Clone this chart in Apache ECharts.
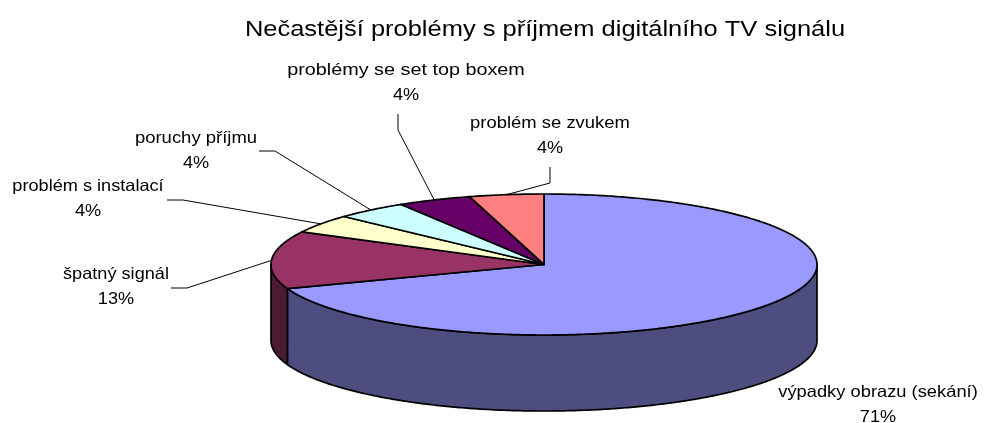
<!DOCTYPE html>
<html>
<head>
<meta charset="utf-8">
<style>html,body{margin:0;padding:0;background:#fff}#c{width:984px;height:423px}</style>
<script src="https://cdn.jsdelivr.net/npm/echarts@6/dist/echarts.min.js"></script>
</head>
<body>
<div id="c"></div>
<script>
var chartTitle = 'Nečastější problémy s příjmem digitálního TV signálu';
var categories = ['výpadky obrazu (sekání)', 'špatný signál', 'problém s instalací', 'poruchy příjmu', 'problémy se set top boxem', 'problém se zvukem'];
var values = [71, 13, 4, 4, 4, 4];
var topColors = ['#9999FF', '#993366', '#FFFFCC', '#CCFFFF', '#660066', '#FF8080'];
var sideColors = ['#4D4D80', '#4D1A33', '#808066', '#668080', '#330033', '#804040'];

// Layout of the tilted pie and of the outside labels
var PIE = { cx: 544, cy: 264.5, rx: 273, ry: 70.5, depth: 76, skew: 0.1 };
var FONT = '"Liberation Sans", Arial, sans-serif';
var labelBoxes = [
  { x: 878, y: 392, sx: 1.11, line: null },
  { x: 116, y: 274, sx: 1.10, line: [[171, 288], [187, 288]] },
  { x: 88,  y: 186, sx: 1.10, line: [[167, 200], [183, 200]] },
  { x: 196, y: 138, sx: 1.12, line: [[259, 151], [275, 151]] },
  { x: 406, y: 70,  sx: 1.20, line: [[398, 114], [398, 130]] },
  { x: 550, y: 123, sx: 1.117, line: [[550, 167], [550, 183]] }
];

var total = values.reduce(function (a, b) { return a + b; }, 0);
var acc = 0;
var sliceData = values.map(function (v, i) {
  var start = acc / total * 2 * Math.PI;
  acc += v;
  return [start, acc / total * 2 * Math.PI, i];
});

// Tilted projection: the slight perspective of the disc shifts the apparent angle
function warp(t) { return t + PIE.skew * Math.sin(t); }
function pt(t, dy) {
  return [PIE.cx + PIE.rx * Math.sin(t), PIE.cy - PIE.ry * Math.cos(t) + (dy || 0)];
}
function arc(t0, t1, dy) {
  var n = Math.max(2, Math.ceil(Math.abs(t1 - t0) / 0.01)), out = [];
  for (var k = 0; k <= n; k++) out.push(pt(t0 + (t1 - t0) * k / n, dy));
  return out;
}
var edgeStyle = { stroke: '#000', lineWidth: 1.7, lineJoin: 'round' };

function renderSide(params, api) {
  var a = Math.max(warp(api.value(0)), Math.PI / 2);
  var b = Math.min(warp(api.value(1)), Math.PI * 1.5);
  if (b <= a) return null;
  var pts = arc(a, b, 0).concat(arc(b, a, PIE.depth));
  return { type: 'polygon', shape: { points: pts },
    style: Object.assign({ fill: sideColors[api.value(2)] }, edgeStyle) };
}
function renderTop(params, api) {
  var pts = [[PIE.cx, PIE.cy]].concat(arc(warp(api.value(0)), warp(api.value(1)), 0));
  return { type: 'polygon', shape: { points: pts },
    style: Object.assign({ fill: topColors[api.value(2)] }, edgeStyle) };
}
function renderLabel(params, api) {
  var i = api.value(2), box = labelBoxes[i], children = [];
  var pct = Math.round(values[i] / total * 100) + '%';
  [categories[i], pct].forEach(function (s, n) {
    children.push({ type: 'text', x: box.x, y: box.y + n * 25,
      scaleX: n ? 1.1 : box.sx, style: {
      text: s, align: 'center', verticalAlign: 'middle',
      fill: '#000', font: '16.5px ' + FONT } });
  });
  if (box.line) {
    var mid = warp((api.value(0) + api.value(1)) / 2);
    children.push({ type: 'polyline', shape: { points: box.line.concat([pt(mid, 0)]) },
      style: { stroke: '#000', lineWidth: 1, fill: null } });
  }
  return { type: 'group', children: children };
}
function renderTitle() {
  return { type: 'text', x: 545, y: 30, scaleX: 1.132, style: {
    text: chartTitle, align: 'center', verticalAlign: 'middle', fill: '#000', font: '22.5px ' + FONT } };
}

var chart = echarts.init(document.getElementById('c'), null, { renderer: 'canvas' });
chart.setOption({
  animation: false,
  backgroundColor: '#fff',
  series: [
    { type: 'custom', coordinateSystem: 'none', silent: true, z: 2, renderItem: renderTitle, data: [[0]] },
    { type: 'custom', coordinateSystem: 'none', silent: true, z: 3, renderItem: renderLabel, data: sliceData },
    { type: 'custom', coordinateSystem: 'none', silent: true, z: 4, renderItem: renderSide, data: sliceData },
    { type: 'custom', coordinateSystem: 'none', silent: true, z: 5, renderItem: renderTop, data: sliceData }
  ]
});
</script>
</body>
</html>
